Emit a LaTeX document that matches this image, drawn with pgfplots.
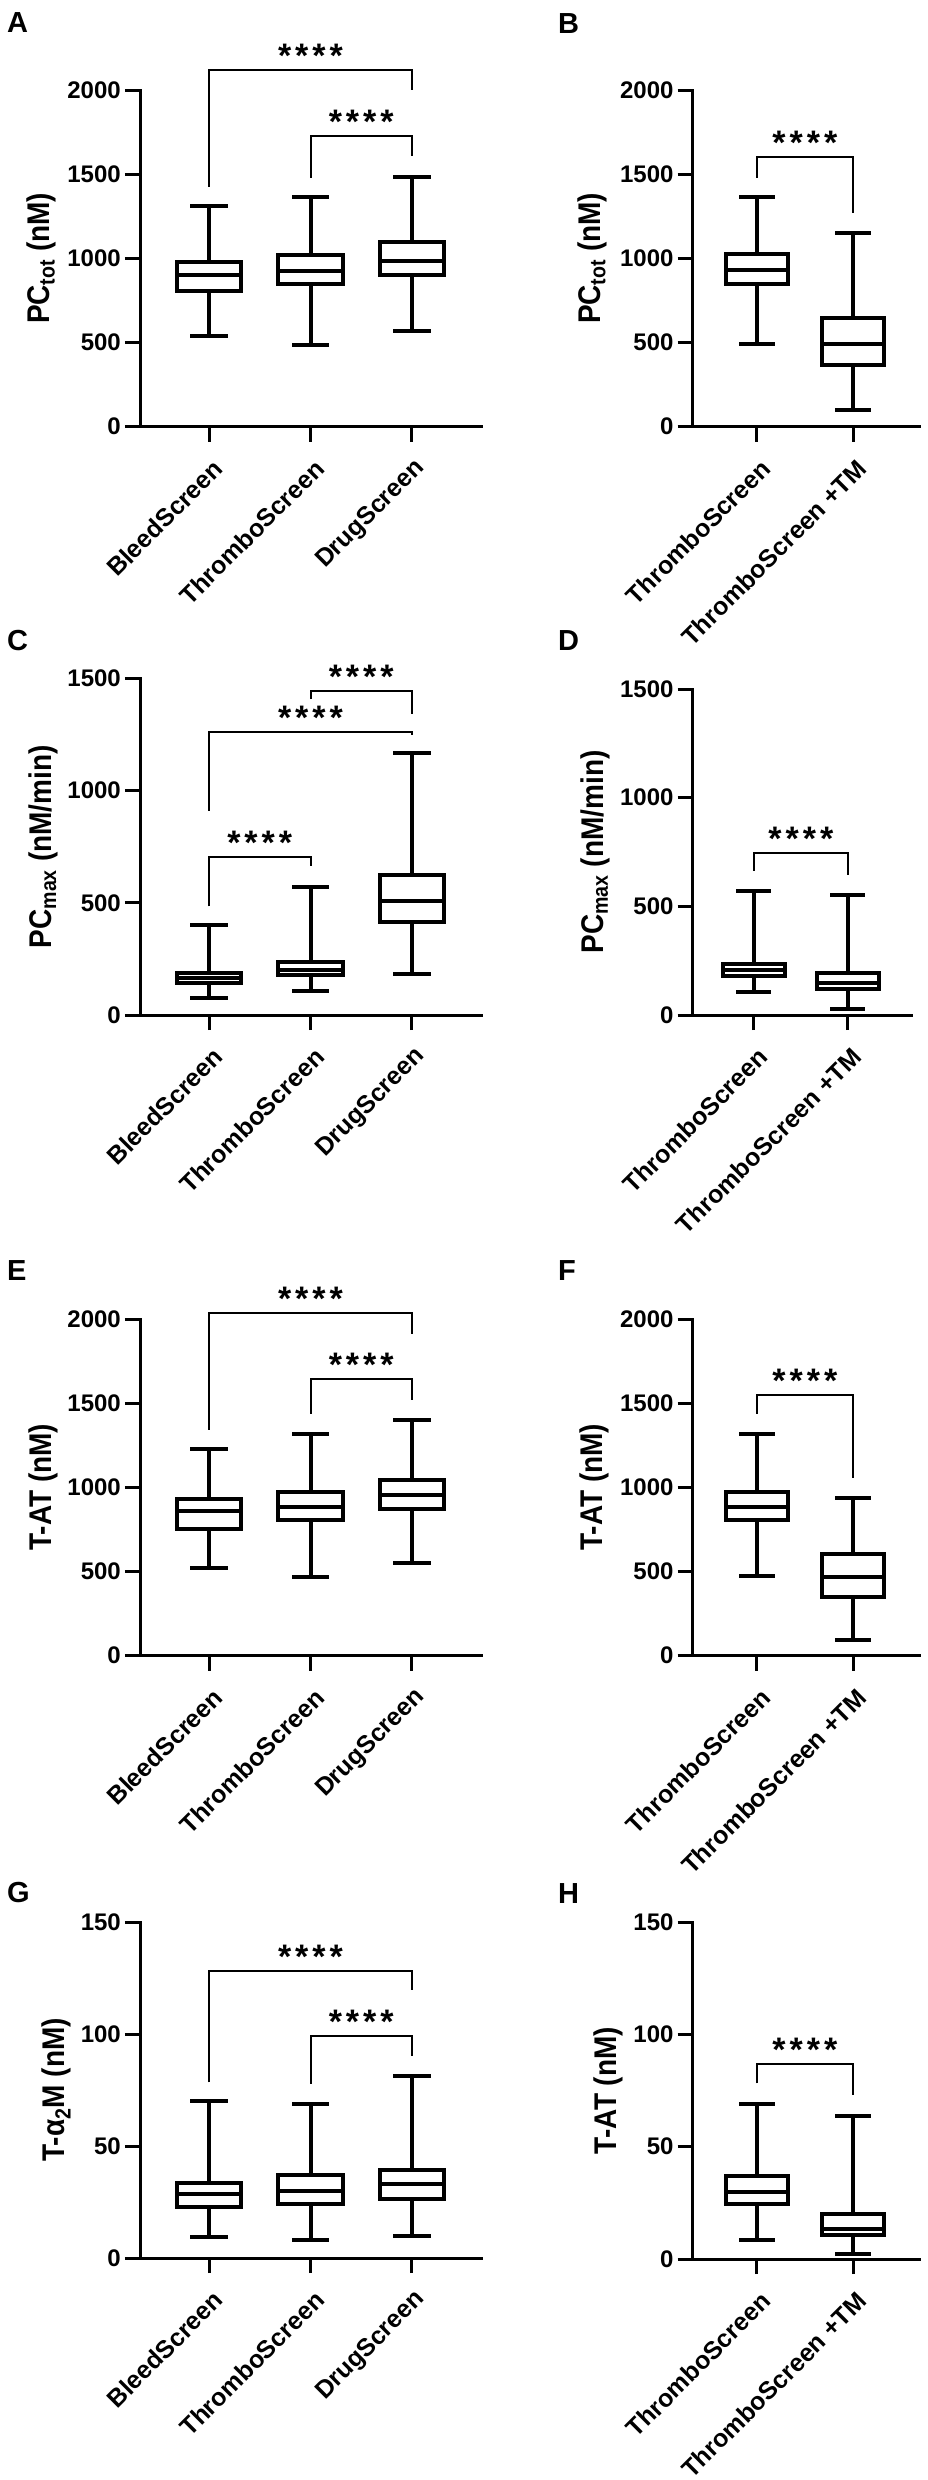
\documentclass[border=0pt]{standalone}
\usepackage{fontspec}
\setmainfont{Liberation Sans}
\usepackage{graphicx}
\usepackage{pgfplots}
\pgfplotsset{compat=1.18}
\pgfplotsset{
  panel/.style={
    scale only axis, anchor=south west, clip=false,
    axis lines=left,
    axis line style={-, line width=3pt, line cap=rect},
    tick align=outside, major tick length=15pt,
    tick style={line width=3pt, black},
    minor tick num=0,
    ymin=0,
    scaled ticks=false,
    /pgf/number format/1000 sep={},
    /pgf/number format/assume math mode=true,
    tick label style={font=\fontsize{24}{24}\selectfont\bfseries},
    yticklabel style={anchor=east, inner sep=0pt, xshift=-4pt},
    xticklabel style={rotate=45, anchor=east, inner sep=0pt, xshift=-9.5pt, yshift=-22.5pt, font=\fontsize{25}{25}\selectfont\bfseries},
    xtick={0,1,2},
    label style={font=\fontsize{28}{28}\selectfont\bfseries},
    ylabel style={at={(axis description cs:0,0.5)}, anchor=base},
    unbounded coords=jump,
  },
  bp/.style={black, line width=4pt, solid, mark=none, line cap=rect, line join=miter},
  br/.style={black, line width=2pt, solid, mark=none},
}
\tikzset{
  stars/.style={anchor=base, inner sep=0pt, yshift=2.5pt, font=\fontsize{34}{34}\selectfont\bfseries},
  plabel/.style={anchor=base west, inner sep=0pt, font=\fontsize{29}{29}\selectfont\bfseries},
}
\newcommand{\st}{*\hspace{4pt}*\hspace{4pt}*\hspace{4pt}*}
\newcommand{\yl}[1]{\scalebox{1}[1.12]{#1}}
\begin{document}
\begin{tikzpicture}
\path[use as bounding box] (0pt,0pt) rectangle (928pt,-2480pt);
\node[plabel] at (7pt,-33pt) {A};
\node[plabel] at (558pt,-34pt) {B};
\node[plabel] at (7pt,-650pt) {C};
\node[plabel] at (558pt,-650pt) {D};
\node[plabel] at (7pt,-1280pt) {E};
\node[plabel] at (558pt,-1280pt) {F};
\node[plabel] at (7pt,-1902pt) {G};
\node[plabel] at (558pt,-1903pt) {H};

% Box: (pos +- 0.32) box from Q1 to Q3, median, whiskers with caps (+-0.165)
% ---------- A ----------
\begin{axis}[panel, at={(140pt,-426.6pt)}, width=341pt, height=336.5pt,
  xmin=-0.68, xmax=2.68, ymax=2000, ytick={0,500,1000,1500,2000},
  xticklabels={BleedScreen,ThromboScreen,DrugScreen},
  ylabel={\yl{PC\textsubscript{tot} (nM)}}, ylabel style={yshift=90pt}]
% BleedScreen: lw 538, q1 805, med 899, q3 981, uw 1310
\addplot[bp] coordinates {(-0.32,805) (0.32,805) (0.32,981) (-0.32,981) (-0.32,805) (nan,nan) (-0.32,899) (0.32,899) (nan,nan) (0,981) (0,1310) (nan,nan) (-0.165,1310) (0.165,1310) (nan,nan) (0,805) (0,538) (nan,nan) (-0.165,538) (0.165,538)};
% ThromboScreen: 486 845 927 1021 1362
\addplot[bp] coordinates {(0.68,845) (1.32,845) (1.32,1021) (0.68,1021) (0.68,845) (nan,nan) (0.68,927) (1.32,927) (nan,nan) (1,1021) (1,1362) (nan,nan) (0.835,1362) (1.165,1362) (nan,nan) (1,845) (1,486) (nan,nan) (0.835,486) (1.165,486)};
% DrugScreen: 568 904 986 1096 1486
\addplot[bp] coordinates {(1.68,904) (2.32,904) (2.32,1096) (1.68,1096) (1.68,904) (nan,nan) (1.68,986) (2.32,986) (nan,nan) (2,1096) (2,1486) (nan,nan) (1.835,1486) (2.165,1486) (nan,nan) (2,904) (2,568) (nan,nan) (1.835,568) (2.165,568)};
\addplot[br] coordinates {(0,1425) (0,2117) (2,2117) (2,2000)};
\addplot[br] coordinates {(1,1479) (1,1725) (2,1725) (2,1608)};
\node[stars] at (axis cs:1,2117) {\st};
\node[stars] at (axis cs:1.5,1725) {\st};
\end{axis}

% ---------- B ----------
\begin{axis}[panel, at={(692.7pt,-426.6pt)}, width=226.3pt, height=336.5pt,
  xmin=-0.665, xmax=1.685, ymax=2000, ytick={0,500,1000,1500,2000}, xtick={0,1},
  xticklabels={ThromboScreen,ThromboScreen +TM},
  ylabel={\yl{PC\textsubscript{tot} (nM)}}, ylabel style={yshift=92pt}]
% ThromboScreen: 490 845 930 1025 1362
\addplot[bp] coordinates {(-0.32,845) (0.32,845) (0.32,1025) (-0.32,1025) (-0.32,845) (nan,nan) (-0.32,930) (0.32,930) (nan,nan) (0,1025) (0,1362) (nan,nan) (-0.165,1362) (0.165,1362) (nan,nan) (0,845) (0,490) (nan,nan) (-0.165,490) (0.165,490)};
% +TM: 101 364 493 645 1150
\addplot[bp] coordinates {(0.68,364) (1.32,364) (1.32,645) (0.68,645) (0.68,364) (nan,nan) (0.68,493) (1.32,493) (nan,nan) (1,645) (1,1150) (nan,nan) (0.835,1150) (1.165,1150) (nan,nan) (1,364) (1,101) (nan,nan) (0.835,101) (1.165,101)};
\addplot[br] coordinates {(0,1479) (0,1601) (1,1601) (1,1268)};
\node[stars] at (axis cs:0.5,1601) {\st};
\end{axis}

% ---------- C ----------
\begin{axis}[panel, at={(140pt,-1015pt)}, width=341pt, height=336.5pt,
  xmin=-0.68, xmax=2.68, ymax=1500, ytick={0,500,1000,1500},
  xticklabels={BleedScreen,ThromboScreen,DrugScreen},
  ylabel={\yl{PC\textsubscript{max} (nM/min)}}, ylabel style={yshift=88pt}]
% BleedScreen: 76 141 164 187 400
\addplot[bp] coordinates {(-0.32,141) (0.32,141) (0.32,187) (-0.32,187) (-0.32,141) (nan,nan) (-0.32,164) (0.32,164) (nan,nan) (0,187) (0,400) (nan,nan) (-0.165,400) (0.165,400) (nan,nan) (0,141) (0,76) (nan,nan) (-0.165,76) (0.165,76)};
% ThromboScreen: 106 178 202 236 572
\addplot[bp] coordinates {(0.68,178) (1.32,178) (1.32,236) (0.68,236) (0.68,178) (nan,nan) (0.68,202) (1.32,202) (nan,nan) (1,236) (1,572) (nan,nan) (0.835,572) (1.165,572) (nan,nan) (1,178) (1,106) (nan,nan) (0.835,106) (1.165,106)};
% DrugScreen: 185 414 507 625 1167
\addplot[bp] coordinates {(1.68,414) (2.32,414) (2.32,625) (1.68,625) (1.68,414) (nan,nan) (1.68,507) (2.32,507) (nan,nan) (2,625) (2,1167) (nan,nan) (1.835,1167) (2.165,1167) (nan,nan) (2,414) (2,185) (nan,nan) (1.835,185) (2.165,185)};
\addplot[br] coordinates {(1,1408) (1,1444) (2,1444) (2,1342)};
\addplot[br] coordinates {(0,910) (0,1262) (2,1262) (2,1250)};
\addplot[br] coordinates {(0,484) (0,704) (1,704) (1,664)};
\node[stars] at (axis cs:1.5,1444) {\st};
\node[stars] at (axis cs:1,1262) {\st};
\node[stars] at (axis cs:0.5,704) {\st};
\end{axis}

% ---------- D ----------
\begin{axis}[panel, at={(692.7pt,-1015pt)}, width=219pt, height=326pt,
  xmin=-0.652, xmax=1.68, ymax=1500, ytick={0,500,1000,1500}, xtick={0,1},
  xticklabels={ThromboScreen,ThromboScreen +TM},
  ylabel={\yl{PC\textsubscript{max} (nM/min)}}, ylabel style={yshift=89pt}]
% ThromboScreen: 105 180 209 235 571
\addplot[bp] coordinates {(-0.33,180) (0.33,180) (0.33,235) (-0.33,235) (-0.33,180) (nan,nan) (-0.33,209) (0.33,209) (nan,nan) (0,235) (0,571) (nan,nan) (-0.165,571) (0.165,571) (nan,nan) (0,180) (0,105) (nan,nan) (-0.165,105) (0.165,105)};
% +TM: 27 120 149 193 551
\addplot[bp] coordinates {(0.67,120) (1.33,120) (1.33,193) (0.67,193) (0.67,120) (nan,nan) (0.67,149) (1.33,149) (nan,nan) (1,193) (1,551) (nan,nan) (0.835,551) (1.165,551) (nan,nan) (1,120) (1,27) (nan,nan) (0.835,27) (1.165,27)};
\addplot[br] coordinates {(0,664) (0,745) (1,745) (1,645)};
\node[stars] at (axis cs:0.5,745) {\st};
\end{axis}

% ---------- E ----------
\begin{axis}[panel, at={(140pt,-1655.5pt)}, width=341pt, height=336.5pt,
  xmin=-0.68, xmax=2.68, ymax=2000, ytick={0,500,1000,1500,2000},
  xticklabels={BleedScreen,ThromboScreen,DrugScreen},
  ylabel={\yl{T-AT (nM)}}, ylabel style={yshift=88pt}]
% BleedScreen: 521 754 859 930 1225
\addplot[bp] coordinates {(-0.32,754) (0.32,754) (0.32,930) (-0.32,930) (-0.32,754) (nan,nan) (-0.32,859) (0.32,859) (nan,nan) (0,930) (0,1225) (nan,nan) (-0.165,1225) (0.165,1225) (nan,nan) (0,754) (0,521) (nan,nan) (-0.165,521) (0.165,521)};
% ThromboScreen: 469 805 883 972 1315
\addplot[bp] coordinates {(0.68,805) (1.32,805) (1.32,972) (0.68,972) (0.68,805) (nan,nan) (0.68,883) (1.32,883) (nan,nan) (1,972) (1,1315) (nan,nan) (0.835,1315) (1.165,1315) (nan,nan) (1,805) (1,469) (nan,nan) (0.835,469) (1.165,469)};
% DrugScreen: 552 871 955 1045 1401
\addplot[bp] coordinates {(1.68,871) (2.32,871) (2.32,1045) (1.68,1045) (1.68,871) (nan,nan) (1.68,955) (2.32,955) (nan,nan) (2,1045) (2,1401) (nan,nan) (1.835,1401) (2.165,1401) (nan,nan) (2,871) (2,552) (nan,nan) (1.835,552) (2.165,552)};
\addplot[br] coordinates {(0,1343) (0,2035) (2,2035) (2,1913)};
\addplot[br] coordinates {(1,1437) (1,1643) (2,1643) (2,1519)};
\node[stars] at (axis cs:1,2035) {\st};
\node[stars] at (axis cs:1.5,1643) {\st};
\end{axis}

% ---------- F ----------
\begin{axis}[panel, at={(692.7pt,-1655.5pt)}, width=226.3pt, height=336.5pt,
  xmin=-0.665, xmax=1.685, ymax=2000, ytick={0,500,1000,1500,2000}, xtick={0,1},
  xticklabels={ThromboScreen,ThromboScreen +TM},
  ylabel={\yl{T-AT (nM)}}, ylabel style={yshift=90pt}]
% ThromboScreen: 472 805 883 972 1315
\addplot[bp] coordinates {(-0.32,805) (0.32,805) (0.32,972) (-0.32,972) (-0.32,805) (nan,nan) (-0.32,883) (0.32,883) (nan,nan) (0,972) (0,1315) (nan,nan) (-0.165,1315) (0.165,1315) (nan,nan) (0,805) (0,472) (nan,nan) (-0.165,472) (0.165,472)};
% +TM: 94 350 467 601 939
\addplot[bp] coordinates {(0.68,350) (1.32,350) (1.32,601) (0.68,601) (0.68,350) (nan,nan) (0.68,467) (1.32,467) (nan,nan) (1,601) (1,939) (nan,nan) (0.835,939) (1.165,939) (nan,nan) (1,350) (1,94) (nan,nan) (0.835,94) (1.165,94)};
\addplot[br] coordinates {(0,1437) (0,1549) (1,1549) (1,1056)};
\node[stars] at (axis cs:0.5,1549) {\st};
\end{axis}

% ---------- G ----------
\begin{axis}[panel, at={(140pt,-2258pt)}, width=341pt, height=336pt,
  xmin=-0.68, xmax=2.68, ymax=150, ytick={0,50,100,150},
  xticklabels={BleedScreen,ThromboScreen,DrugScreen},
  ylabel={\yl{T-α\textsubscript{2}M (nM)}}, ylabel style={yshift=75pt}]
% BleedScreen: 9.3 22.9 28.7 33.5 70.2
\addplot[bp] coordinates {(-0.32,22.9) (0.32,22.9) (0.32,33.5) (-0.32,33.5) (-0.32,22.9) (nan,nan) (-0.32,28.7) (0.32,28.7) (nan,nan) (0,33.5) (0,70.2) (nan,nan) (-0.165,70.2) (0.165,70.2) (nan,nan) (0,22.9) (0,9.3) (nan,nan) (-0.165,9.3) (0.165,9.3)};
% ThromboScreen: 8.1 24.1 30.0 37.0 68.9
\addplot[bp] coordinates {(0.68,24.1) (1.32,24.1) (1.32,37.0) (0.68,37.0) (0.68,24.1) (nan,nan) (0.68,30.0) (1.32,30.0) (nan,nan) (1,37.0) (1,68.9) (nan,nan) (0.835,68.9) (1.165,68.9) (nan,nan) (1,24.1) (1,8.1) (nan,nan) (0.835,8.1) (1.165,8.1)};
% DrugScreen: 9.9 26.3 33.1 39.5 81.1
\addplot[bp] coordinates {(1.68,26.3) (2.32,26.3) (2.32,39.5) (1.68,39.5) (1.68,26.3) (nan,nan) (1.68,33.1) (2.32,33.1) (nan,nan) (2,39.5) (2,81.1) (nan,nan) (1.835,81.1) (2.165,81.1) (nan,nan) (2,26.3) (2,9.9) (nan,nan) (1.835,9.9) (2.165,9.9)};
\addplot[br] coordinates {(0,78.4) (0,128.3) (2,128.3) (2,119.5)};
\addplot[br] coordinates {(1,77.7) (1,98.9) (2,98.9) (2,90.1)};
\node[stars] at (axis cs:1,128.3) {\st};
\node[stars] at (axis cs:1.5,98.9) {\st};
\end{axis}

% ---------- H ----------
\begin{axis}[panel, at={(692.7pt,-2259pt)}, width=226.3pt, height=337pt,
  xmin=-0.665, xmax=1.685, ymax=150, ytick={0,50,100,150}, xtick={0,1},
  xticklabels={ThromboScreen,ThromboScreen +TM},
  ylabel={\yl{T-AT (nM)}}, ylabel style={yshift=76pt}]
% ThromboScreen: 8.4 24.3 29.9 37.1 69.1
\addplot[bp] coordinates {(-0.32,24.3) (0.32,24.3) (0.32,37.1) (-0.32,37.1) (-0.32,24.3) (nan,nan) (-0.32,29.9) (0.32,29.9) (nan,nan) (0,37.1) (0,69.1) (nan,nan) (-0.165,69.1) (0.165,69.1) (nan,nan) (0,24.3) (0,8.4) (nan,nan) (-0.165,8.4) (0.165,8.4)};
% +TM: 2.3 10.7 13.2 20.2 63.8
\addplot[bp] coordinates {(0.68,10.7) (1.32,10.7) (1.32,20.2) (0.68,20.2) (0.68,10.7) (nan,nan) (0.68,13.2) (1.32,13.2) (nan,nan) (1,20.2) (1,63.8) (nan,nan) (0.835,63.8) (1.165,63.8) (nan,nan) (1,10.7) (1,2.3) (nan,nan) (0.835,2.3) (1.165,2.3)};
\addplot[br] coordinates {(0,78.2) (0,87.0) (1,87.0) (1,73.0)};
\node[stars] at (axis cs:0.5,87.0) {\st};
\end{axis}
\end{tikzpicture}
\end{document}
